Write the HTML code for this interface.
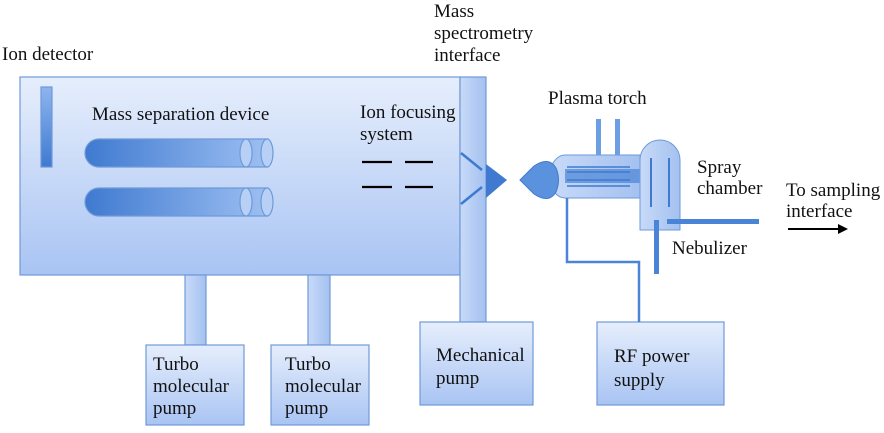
<!DOCTYPE html>
<html><head><meta charset="utf-8"><style>
body{margin:0;background:#fff;}
svg text{font-family:"Liberation Serif",serif;font-size:19px;fill:#111;}
</style></head><body>
<svg width="884" height="428" viewBox="0 0 884 428" xmlns="http://www.w3.org/2000/svg">
<defs>
<linearGradient id="bg" x1="0" y1="0" x2="0" y2="1"><stop offset="0" stop-color="#e6eefc"/><stop offset="1" stop-color="#a9c4f3"/></linearGradient>
<linearGradient id="tube" x1="0" y1="0" x2="1" y2="0"><stop offset="0" stop-color="#3f7ad0"/><stop offset="1" stop-color="#9dbff2"/></linearGradient>
<linearGradient id="det" x1="0" y1="0" x2="0" y2="1"><stop offset="0" stop-color="#8fb4ee"/><stop offset="1" stop-color="#3f7ad0"/></linearGradient>
<linearGradient id="pipe" x1="0" y1="0" x2="1" y2="0"><stop offset="0" stop-color="#c8daf8"/><stop offset="1" stop-color="#a4c1f0"/></linearGradient>
</defs>
<g stroke="#6e9ad8" stroke-width="1.2">
<rect x="20" y="77" width="440" height="198" fill="url(#bg)"/>
<rect x="460" y="77" width="26" height="245" fill="url(#pipe)"/>
<rect x="185" y="275" width="21" height="70" fill="url(#pipe)"/>
<rect x="308" y="275" width="22" height="70" fill="url(#pipe)"/>
<rect x="146" y="345" width="98" height="80" fill="url(#bg)"/>
<rect x="271" y="345" width="98" height="80" fill="url(#bg)"/>
<rect x="420" y="322" width="113" height="83" fill="url(#bg)"/>
<rect x="597" y="322" width="127" height="83" fill="url(#bg)"/>
<rect x="41" y="87" width="11" height="80" fill="url(#det)"/>
<path d="M99,139 H268 V167 H99 A14,14 0 0 1 99,139Z" fill="url(#tube)"/>
<path d="M99,188 H268 V216 H99 A14,14 0 0 1 99,188Z" fill="url(#tube)"/>
<ellipse cx="246" cy="153" rx="6" ry="14" fill="#b8d0f6"/><ellipse cx="267" cy="153" rx="6" ry="14" fill="#b8d0f6"/>
<ellipse cx="246" cy="202" rx="6" ry="14" fill="#b8d0f6"/><ellipse cx="267" cy="202" rx="6" ry="14" fill="#b8d0f6"/>
</g>
<g stroke="#000" stroke-width="2.2"><line x1="362" y1="162" x2="392" y2="162"/><line x1="362" y1="187" x2="392" y2="187"/><line x1="405" y1="162" x2="433" y2="162"/><line x1="405" y1="187" x2="433" y2="187"/></g>
<g stroke="#3f7ad0" stroke-width="2.5"><line x1="461" y1="153" x2="482" y2="170"/><line x1="461" y1="204" x2="482" y2="187"/></g>
<polygon points="486,164 507,180 486,198" fill="#3f7ad0"/>
<path d="M640,155 H565 A15,21 0 0 0 565,198 H640Z" fill="url(#pipe)" stroke="#6e9ad8"/>
<rect x="565" y="169" width="75" height="14" fill="#4a84d6" opacity="0.7"/>
<g stroke="#3f7ad0" stroke-width="1.5"><line x1="567" y1="167" x2="630" y2="167"/><line x1="567" y1="172" x2="630" y2="172"/><line x1="567" y1="180" x2="630" y2="180"/><line x1="567" y1="186" x2="630" y2="186"/></g>
<path d="M520,180 L534,166 Q549,156 556,168 Q561,180 556,192 Q549,204 534,194Z" fill="#5b92dd" stroke="#3f7ad0"/>
<rect x="596" y="119" width="5" height="36" fill="#6b9ee2"/><rect x="615" y="119" width="5" height="36" fill="#6b9ee2"/>
<path d="M640,230 V160 A20,20 0 0 1 680,160 V230Z" fill="url(#pipe)" stroke="#6e9ad8"/>
<g stroke="#3f7ad0" stroke-width="2"><line x1="651" y1="158" x2="651" y2="207"/><line x1="669" y1="158" x2="669" y2="207"/></g>
<rect x="667" y="219" width="92" height="5" fill="#4a84d6"/>
<rect x="654" y="220" width="5" height="54" fill="#4a84d6"/>
<path d="M567,198 V262 H639 V322" fill="none" stroke="#4a84d6" stroke-width="2.5"/>
<line x1="788" y1="229" x2="840" y2="229" stroke="#000" stroke-width="2"/>
<polygon points="838,224 848,229 838,234" fill="#000"/>
<text x="2" y="60">Ion detector</text>
<text x="434" y="17">Mass</text><text x="434" y="39">spectrometry</text><text x="434" y="61">interface</text>
<text x="92" y="120">Mass separation device</text>
<text x="360" y="118">Ion focusing</text><text x="360" y="140">system</text>
<text x="548" y="104">Plasma torch</text>
<text x="697" y="173">Spray</text><text x="697" y="194">chamber</text>
<text x="786" y="196">To sampling</text><text x="786" y="217">interface</text>
<text x="672" y="254">Nebulizer</text>
<text x="153" y="370">Turbo</text><text x="153" y="392">molecular</text><text x="153" y="414">pump</text>
<text x="285" y="370">Turbo</text><text x="285" y="392">molecular</text><text x="285" y="414">pump</text>
<text x="436" y="361">Mechanical</text><text x="436" y="384">pump</text>
<text x="614" y="362">RF power</text><text x="614" y="386">supply</text>
</svg>
</body></html>
